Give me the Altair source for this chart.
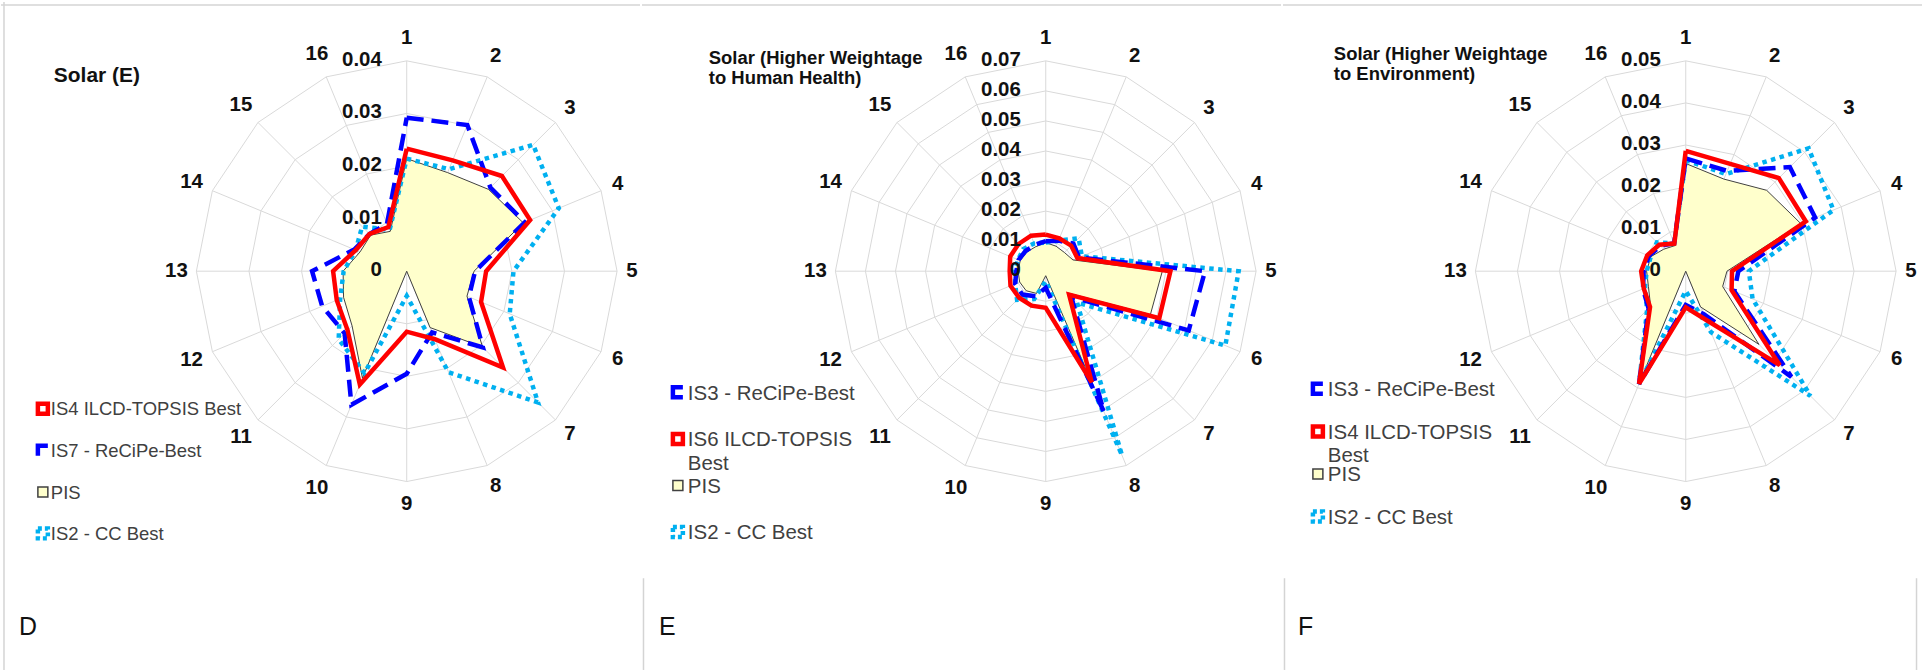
import altair as alt
import pandas as pd

# ---------------------------------------------------------------- data
SPOKE_LABELS = [str(i) for i in range(1, 17)]

# Solar (E)
D_TICKS = ["0", "0.01", "0.02", "0.03", "0.04"]
D_IS4_ILCD = [0.0233, 0.0228, 0.0256, 0.0254, 0.0151, 0.0153, 0.0259, 0.0140,
              0.0115, 0.0233, 0.0159, 0.0144, 0.0140, 0.0105, 0.0100, 0.0091]
D_IS7_RECIPE = [0.0292, 0.0301, 0.0225, 0.0243, 0.0130, 0.0128, 0.0205, 0.0126,
                0.0195, 0.0275, 0.0167, 0.0174, 0.0180, 0.0108, 0.0100, 0.0098]
D_PIS = [0.0214, 0.0203, 0.0220, 0.0240, 0.0128, 0.0124, 0.0204, 0.0116,
         0.0000, 0.0220, 0.0147, 0.0130, 0.0121, 0.0096, 0.0097, 0.0082]
D_IS2_CC = [0.0214, 0.0210, 0.0340, 0.0313, 0.0203, 0.0212, 0.0353, 0.0208,
            0.0047, 0.0210, 0.0183, 0.0137, 0.0120, 0.0105, 0.0120, 0.0085]

# Solar (Higher Weightage to Human Health)
E_TICKS = ["0", "0.01", "0.02", "0.03", "0.04", "0.05", "0.06", "0.07"]
E_IS3_RECIPE = [0.0100, 0.0110, 0.0130, 0.0120, 0.0530, 0.0515, 0.0120, 0.0506,
                0.0055, 0.0090, 0.0110, 0.0110, 0.0098, 0.0098, 0.0095, 0.0095]
E_IS6_ILCD = [0.0122, 0.0118, 0.0120, 0.0114, 0.0415, 0.0409, 0.0110, 0.0400,
              0.0122, 0.0124, 0.0125, 0.0127, 0.0120, 0.0128, 0.0128, 0.0128]
E_PIS = [0.0095, 0.0090, 0.0088, 0.0098, 0.0388, 0.0377, 0.0102, 0.0405,
         0.0015, 0.0080, 0.0092, 0.0094, 0.0092, 0.0092, 0.0090, 0.0088]
E_IS2_CC = [0.0095, 0.0110, 0.0155, 0.0130, 0.0642, 0.0647, 0.0147, 0.0663,
            0.0033, 0.0100, 0.0135, 0.0110, 0.0103, 0.0100, 0.0105, 0.0100]

# Solar (Higher Weightage to Environment)
F_TICKS = ["0", "0.01", "0.02", "0.03", "0.04", "0.05"]
F_IS3_RECIPE = [0.0268, 0.0258, 0.0350, 0.0333, 0.0125, 0.0125, 0.0355, 0.0110,
                0.0080, 0.0290, 0.0125, 0.0110, 0.0100, 0.0095, 0.0085, 0.0072]
F_IS4_ILCD = [0.0286, 0.0276, 0.0313, 0.0309, 0.0110, 0.0118, 0.0316, 0.0125,
              0.0086, 0.0290, 0.0120, 0.0108, 0.0106, 0.0099, 0.0089, 0.0071]
F_PIS = [0.0256, 0.0237, 0.0272, 0.0296, 0.0098, 0.0095, 0.0246, 0.0092,
         0.0000, 0.0282, 0.0118, 0.0096, 0.0093, 0.0090, 0.0074, 0.0066]
F_IS2_CC = [0.0264, 0.0250, 0.0413, 0.0380, 0.0150, 0.0172, 0.0419, 0.0157,
            0.0047, 0.0290, 0.0130, 0.0105, 0.0093, 0.0090, 0.0097, 0.0072]

# ---------------------------------------------------------------- styling
W, H = 641, 670          # one panel
R = 211                  # outer ring radius in px
CY = 270                 # vertical position of the radar centre
FONT = "Liberation Sans"
LABEL_SIZE = 20.5
RED, BLUE, CYAN = "#FF0000", "#0000FF", "#00B0F0"
PIS_FILL, PIS_EDGE = "#FFFFCC", "#404040"
GRID = "#D9D9D9"
FRAME = "#D4D4D4"
LEGEND_TEXT = "#404040"

LINE_STYLE = {
    "red": dict(stroke=RED, strokeWidth=4.5),
    "blue": dict(stroke=BLUE, strokeWidth=4.5, strokeDash=[17, 8]),
    "cyan": dict(stroke=CYAN, strokeWidth=4.5, strokeDash=[4.5, 4.5]),
}

dummy = pd.DataFrame({"a": [0]})


def closed(values):
    vals = list(values) + [values[0]]
    return pd.DataFrame({"spoke": list(range(1, len(vals) + 1)), "val": vals})


def polar(chart):
    return chart.transform_calculate(
        theta="(datum.spoke - 1) * 2 * PI / 16"
    ).transform_calculate(
        px="datum.val * sin(datum.theta)",
        py="datum.val * cos(datum.theta)",
    )


def legend_symbol(kind, x, y, bracket):
    if kind == "red":
        mark = alt.Chart(dummy).mark_point(shape="square", size=100, filled=True,
                                           fill="white", stroke=RED, strokeWidth=4.5,
                                           opacity=1)
    elif kind == "blue":
        mark = alt.Chart(dummy).mark_point(shape=bracket, size=100, filled=False,
                                           stroke=BLUE, strokeWidth=4.5, opacity=1)
    elif kind == "pis":
        mark = alt.Chart(dummy).mark_point(shape="square", size=100, filled=True,
                                           fill=PIS_FILL, stroke=PIS_EDGE,
                                           strokeWidth=1.5, opacity=1)
    else:
        mark = alt.Chart(dummy).mark_point(shape="square", size=100, filled=False,
                                           stroke=CYAN, strokeWidth=4.5,
                                           strokeDash=[4, 3], opacity=1)
    return mark.encode(x=alt.value(x), y=alt.value(y))


def panel(cx, ticks, series, title, legend, letter, frame):
    vmax = float(ticks[-1])
    k = vmax / R
    xs = alt.Scale(domain=[-cx * k, (W - cx) * k], nice=False, zero=False)
    ys = alt.Scale(domain=[-(H - CY) * k, CY * k], nice=False, zero=False)
    X = alt.X("px:Q", scale=xs, axis=None)
    Y = alt.Y("py:Q", scale=ys, axis=None)

    layers = []

    # frame lines
    for (x1, x2, y1, y2) in frame:
        layers.append(alt.Chart(dummy).mark_rule(color=FRAME, strokeWidth=1.5).encode(
            x=alt.value(x1), x2=alt.value(x2), y=alt.value(y1), y2=alt.value(y2)))

    # polygonal grid rings
    levels = [float(t) for t in ticks[1:]]
    rings = pd.concat([closed([lv] * 16).assign(level=lv) for lv in levels])
    layers.append(polar(alt.Chart(rings)).mark_line(color=GRID, strokeWidth=1).encode(
        x=X, y=Y, detail="level:N", order="spoke:Q"))

    # spokes
    spokes = pd.DataFrame({"spoke": list(range(1, 17)), "val": [vmax] * 16})
    layers.append(polar(alt.Chart(spokes)).transform_calculate(zero="0").mark_rule(
        color=GRID, strokeWidth=1).encode(x=X, y=Y, x2="zero:Q", y2="zero:Q"))

    # data series
    for kind, values in series:
        base = polar(alt.Chart(closed(values)))
        if kind == "pis":
            m = base.mark_line(fill=PIS_FILL, stroke=PIS_EDGE, strokeWidth=1,
                               strokeJoin="miter")
        else:
            m = base.mark_line(strokeJoin="miter", **LINE_STYLE[kind])
        layers.append(m.encode(x=X, y=Y, order="spoke:Q"))

    # value labels along the vertical spoke
    tick_df = pd.DataFrame({"lab": ticks, "val": [float(t) for t in ticks]})
    layers.append(alt.Chart(tick_df).transform_calculate(px="0", py="datum.val").mark_text(
        align="right", baseline="middle", dx=-25, dy=-1, font=FONT, fontSize=LABEL_SIZE,
        fontWeight="bold", color="#111111").encode(x=X, y=Y, text="lab:N"))

    # category labels around the rim
    lab_df = pd.DataFrame({"spoke": list(range(1, 17)), "lab": SPOKE_LABELS})
    layers.append(alt.Chart(lab_df).transform_calculate(
        theta="(datum.spoke - 1) * 2 * PI / 16"
    ).transform_calculate(
        rr=f"(226 + 8 * abs(cos(datum.theta)) + 5 * (length(datum.lab) - 1) * abs(sin(datum.theta))) * {k}"
    ).transform_calculate(
        px="datum.rr * sin(datum.theta)", py="datum.rr * cos(datum.theta)"
    ).mark_text(align="center", baseline="middle", font=FONT, fontSize=LABEL_SIZE,
                fontWeight="bold", color="#111111").encode(x=X, y=Y, text="lab:N"))

    # chart title
    t_lines, t_x, t_y, t_size, t_lh = title
    layers.append(alt.Chart(dummy).mark_text(
        text=t_lines, align="left", baseline="alphabetic", font=FONT, fontSize=t_size,
        fontWeight="bold", lineHeight=t_lh, color="#111111").encode(
        x=alt.value(t_x), y=alt.value(t_y + 0.36 * t_size)))

    # legend
    items, sym_x, txt_x, fs, lh, bracket = legend
    for kind, lines, y in items:
        layers.append(legend_symbol(kind, sym_x, y, bracket))
        layers.append(alt.Chart(dummy).mark_text(
            text=lines, align="left", baseline="alphabetic", font=FONT, fontSize=fs,
            lineHeight=lh, color=LEGEND_TEXT).encode(
            x=alt.value(txt_x), y=alt.value(y + 0.36 * fs)))

    # panel letter
    layers.append(alt.Chart(dummy).mark_text(
        text=letter[0], align="left", baseline="alphabetic", font=FONT, fontSize=25,
        color="#111111").encode(x=alt.value(letter[1]), y=alt.value(635)))

    return alt.layer(*layers).properties(width=W, height=H)


top = (0, W, 3, 3)
panel_d = panel(
    407, D_TICKS,
    [("pis", D_PIS), ("cyan", D_IS2_CC), ("blue", D_IS7_RECIPE), ("red", D_IS4_ILCD)],
    (["Solar (E)"], 53, 72.5, 21, 22),
    ([("red", ["IS4 ILCD-TOPSIS Best"], 408),
      ("blue", ["IS7 - ReCiPe-Best"], 450),
      ("pis", ["PIS"], 491.5),
      ("cyan", ["IS2 - CC Best"], 533)],
     42, 50, 18.5, 22, "M-1,1V-1H1"),
    ("D", 18),
    [top, (3, 3, 0, H)],
)
panel_e = panel(
    405, E_TICKS,
    [("pis", E_PIS), ("cyan", E_IS2_CC), ("blue", E_IS3_RECIPE), ("red", E_IS6_ILCD)],
    (["Solar (Higher Weightage", "to Human Health)"], 67, 55, 18.5, 20.5),
    ([("blue", ["IS3 - ReCiPe-Best"], 391.5),
      ("red", ["IS6 ILCD-TOPSIS", "Best"], 438.3),
      ("pis", ["PIS"], 485),
      ("cyan", ["IS2 - CC Best"], 531.7)],
     36, 46, 20.5, 23.4, "M1,-1H-1V1H1"),
    ("E", 17),
    [top, (1.5, 1.5, 578, H)],
)
panel_f = panel(
    404, F_TICKS,
    [("pis", F_PIS), ("cyan", F_IS2_CC), ("blue", F_IS3_RECIPE), ("red", F_IS4_ILCD)],
    (["Solar (Higher Weightage", "to Environment)"], 51, 51.3, 18.5, 20.5),
    ([("blue", ["IS3 - ReCiPe-Best"], 388),
      ("red", ["IS4 ILCD-TOPSIS", "Best"], 430.8),
      ("pis", ["PIS"], 473.5),
      ("cyan", ["IS2 - CC Best"], 516)],
     35, 45, 20.5, 23.4, "M1,-1H-1V1H1"),
    ("F", 15),
    [top, (1.5, 1.5, 578, H), (635.5, 635.5, 578, H)],
)

chart = alt.hconcat(panel_d, panel_e, panel_f, spacing=0).properties(
    padding=0
).configure_view(stroke=None)

chart.save("out.html", embed_options={"renderer": "svg", "actions": False})
